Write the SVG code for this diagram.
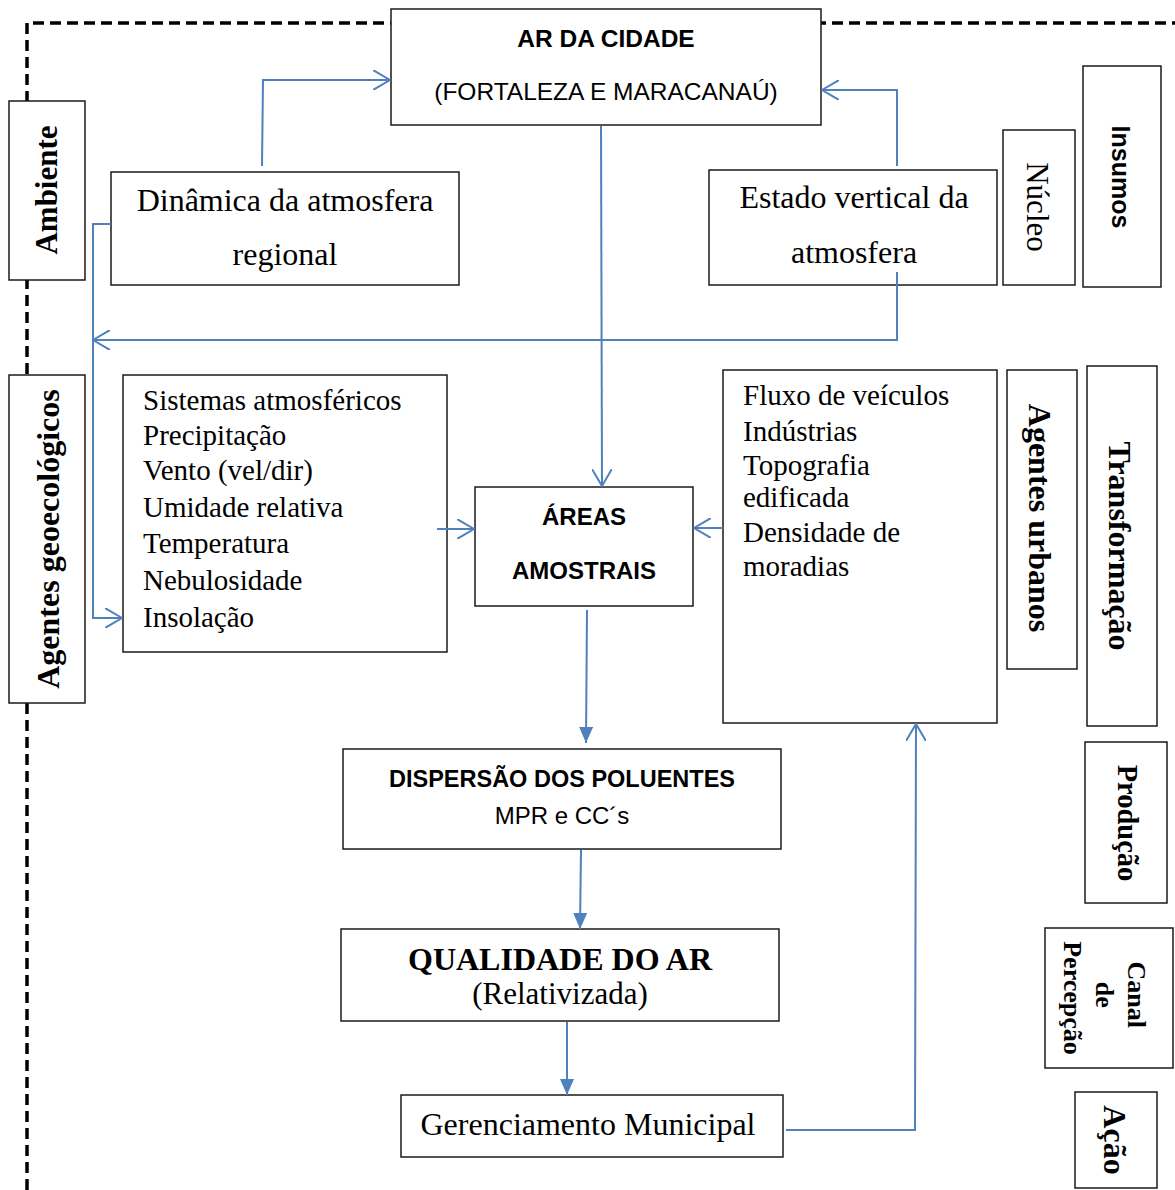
<svg xmlns="http://www.w3.org/2000/svg" width="1175" height="1190" viewBox="0 0 1175 1190">
<defs>
<style>
.box{fill:#fff;stroke:#1a1a1a;stroke-width:1.5}
.dash{fill:none;stroke:#000;stroke-width:3.5;stroke-dasharray:11 6}
.con{fill:none;stroke:#4F81BD;stroke-width:2}
.serif{font-family:"Liberation Serif","Times New Roman",serif;fill:#000}
.sans{font-family:"Liberation Sans",Arial,sans-serif;fill:#000}
.b{font-weight:bold}
.mid{text-anchor:middle}
</style>
<marker id="open" viewBox="0 0 18 20" refX="17" refY="10" markerWidth="18" markerHeight="20" markerUnits="userSpaceOnUse" orient="auto">
<path d="M0,0 L17,10 L0,20" fill="none" stroke="#4F81BD" stroke-width="2"/>
</marker>
<marker id="fill" viewBox="0 0 16 14" refX="16" refY="7" markerWidth="16" markerHeight="14" markerUnits="userSpaceOnUse" orient="auto">
<path d="M0,0 L16,7 L0,14 z" fill="#4F81BD"/>
</marker>
</defs>
<rect width="1175" height="1190" fill="#fff"/>
<g id="border">
<path class="dash" d="M27,1190 L27,23 L1175,23"/>
</g>
<g id="ar-cidade">
<rect class="box" x="391" y="9" width="430" height="116"/>
<text class="sans b mid" x="606" y="47" font-size="24.5">AR DA CIDADE</text>
<text class="sans mid" x="606" y="100" font-size="24.5">(FORTALEZA E MARACANAÚ)</text>
</g>
<g id="dinamica">
<rect class="box" x="111" y="172" width="348" height="113"/>
<text class="serif mid" x="285" y="211" font-size="32">Dinâmica da atmosfera</text>
<text class="serif mid" x="285" y="265" font-size="32">regional</text>
</g>
<g id="estado">
<rect class="box" x="709" y="170" width="288" height="115"/>
<text class="serif mid" x="854" y="208" font-size="32">Estado vertical da</text>
<text class="serif mid" x="854" y="263" font-size="32">atmosfera</text>
</g>
<g id="nucleo">
<rect class="box" x="1003" y="130" width="72" height="155"/>
<text class="serif mid" font-size="31" transform="translate(1037,207) rotate(90)" dy="0.33em">Núcleo</text>
</g>
<g id="insumos">
<rect class="box" x="1083" y="66" width="78" height="221"/>
<text class="sans b mid" font-size="25" transform="translate(1121,177) rotate(90)" dy="0.35em">Insumos</text>
</g>
<g id="ambiente">
<rect class="box" x="9" y="101" width="76" height="179"/>
<text class="serif b mid" font-size="31" transform="translate(47,190) rotate(-90)" dy="0.33em">Ambiente</text>
</g>
<g id="agentes-geo">
<rect class="box" x="9" y="375" width="76" height="328"/>
<text class="serif b mid" font-size="32" transform="translate(48,539) rotate(-90)" dy="0.33em">Agentes geoecológicos</text>
</g>
<g id="sistemas">
<rect class="box" x="123" y="375" width="324" height="277"/>
<text class="serif" font-size="29">
<tspan x="143" y="410">Sistemas atmosféricos</tspan>
<tspan x="143" y="445">Precipitação</tspan>
<tspan x="143" y="480">Vento (vel/dir)</tspan>
<tspan x="143" y="517">Umidade relativa</tspan>
<tspan x="143" y="553">Temperatura</tspan>
<tspan x="143" y="590">Nebulosidade</tspan>
<tspan x="143" y="627">Insolação</tspan>
</text>
</g>
<g id="areas">
<rect class="box" x="475" y="487" width="218" height="119"/>
<text class="sans b mid" x="584" y="525" font-size="24">ÁREAS</text>
<text class="sans b mid" x="584" y="579" font-size="24">AMOSTRAIS</text>
</g>
<g id="fluxo">
<rect class="box" x="723" y="370" width="274" height="353"/>
<text class="serif" font-size="29">
<tspan x="743" y="405">Fluxo de veículos</tspan>
<tspan x="743" y="441">Indústrias</tspan>
<tspan x="743" y="475">Topografia</tspan>
<tspan x="743" y="507">edificada</tspan>
<tspan x="743" y="542">Densidade de</tspan>
<tspan x="743" y="576">moradias</tspan>
</text>
</g>
<g id="agentes-urbanos">
<rect class="box" x="1007" y="370" width="70" height="299"/>
<text class="serif b mid" font-size="32" transform="translate(1040,518) rotate(90)" dy="0.33em">Agentes urbanos</text>
</g>
<g id="transformacao">
<rect class="box" x="1087" y="366" width="70" height="360"/>
<text class="serif b mid" font-size="32" transform="translate(1120,546) rotate(90)" dy="0.33em">Transformação</text>
</g>
<g id="dispersao">
<rect class="box" x="343" y="749" width="438" height="100"/>
<text class="sans b mid" x="562" y="787" font-size="23.5">DISPERSÃO DOS POLUENTES</text>
<text class="sans mid" x="562" y="824" font-size="24">MPR e CC´s</text>
</g>
<g id="qualidade">
<rect class="box" x="341" y="929" width="438" height="92"/>
<text class="serif b mid" x="560" y="970" font-size="32">QUALIDADE DO AR</text>
<text class="serif mid" x="560" y="1004" font-size="31">(Relativizada)</text>
</g>
<g id="gerenciamento">
<rect class="box" x="401" y="1095" width="382" height="62"/>
<text class="serif mid" x="588" y="1135" font-size="32">Gerenciamento Municipal</text>
</g>
<g id="producao">
<rect class="box" x="1085" y="742" width="82" height="161"/>
<text class="serif b mid" font-size="28.5" transform="translate(1127,823) rotate(90)" dy="0.33em">Produção</text>
</g>
<g id="canal">
<rect class="box" x="1045" y="928" width="128" height="140"/>
<text class="serif b mid" font-size="26" transform="translate(1104,998) rotate(90)">
<tspan x="0" y="-24">Canal</tspan>
<tspan x="0" y="8">de</tspan>
<tspan x="0" y="40">Percepção</tspan>
</text>
</g>
<g id="acao">
<rect class="box" x="1075" y="1092" width="82" height="96"/>
<text class="serif b mid" font-size="32" transform="translate(1115,1140) rotate(90)" dy="0.33em">Ação</text>
</g>
<g id="connectors">
<path class="con" d="M262,166 L263,80 L390,80" marker-end="url(#open)"/>
<path class="con" d="M897,166 L897,90 L822,90" marker-end="url(#open)"/>
<path class="con" d="M897,272 L897,340 L93,340" marker-end="url(#open)"/>
<path class="con" d="M111,224 L93,224 L93,618 L122,618" marker-end="url(#open)"/>
<path class="con" d="M601,126 L602,486" marker-end="url(#open)"/>
<path class="con" d="M437,529 L474,529" marker-end="url(#open)"/>
<path class="con" d="M723,528 L694,528" marker-end="url(#open)"/>
<path class="con" d="M587,610 L586,743" marker-end="url(#fill)"/>
<path class="con" d="M581,850 L580,929" marker-end="url(#fill)"/>
<path class="con" d="M567,1022 L567,1095" marker-end="url(#fill)"/>
<path class="con" d="M786,1130 L915,1130 L916,724" marker-end="url(#open)"/>
</g>
</svg>
